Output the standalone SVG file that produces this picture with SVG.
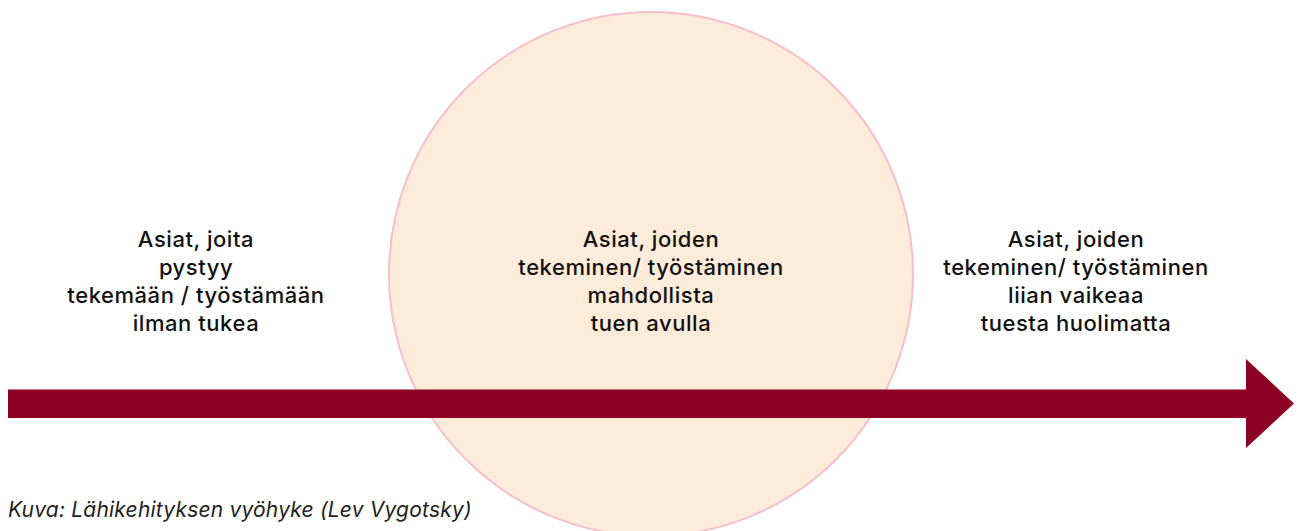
<svg xmlns="http://www.w3.org/2000/svg" width="1298" height="531" viewBox="0 0 1298 531">
  <style>
    .lbl { font-family: Inter, "Noto Sans", sans-serif; font-size: 22px; font-weight: 500; letter-spacing: 0.55px; fill: #111; text-anchor: middle; }
    .cap { font-family: Inter, "Noto Sans", sans-serif; font-size: 21px; font-style: italic; letter-spacing: 0.2px; fill: #222; }
  </style>
  <rect width="1298" height="531" fill="#fff"/>
  <!-- zone of proximal development -->
  <g id="zone">
    <circle cx="651" cy="274" r="262" fill="#FDECD9" stroke="#F7BFCB" stroke-width="2"/>
  </g>
  <!-- axis arrow -->
  <g id="connectors">
    <path d="M8 389.5 H1246 V359 L1294 403.5 L1246 448 V418 H8 Z" fill="#8C0023"/>
  </g>
  <g id="left">
    <text class="lbl" x="196" y="247">Asiat, joita</text>
    <text class="lbl" x="196" y="275">pystyy</text>
    <text class="lbl" x="196" y="303">tekemään / työstämään</text>
    <text class="lbl" x="196" y="331">ilman tukea</text>
  </g>
  <g id="middle">
    <text class="lbl" x="651" y="247">Asiat, joiden</text>
    <text class="lbl" x="651" y="275">tekeminen/ työstäminen</text>
    <text class="lbl" x="651" y="303">mahdollista</text>
    <text class="lbl" x="651" y="331">tuen avulla</text>
  </g>
  <g id="right">
    <text class="lbl" x="1076" y="247">Asiat, joiden</text>
    <text class="lbl" x="1076" y="275">tekeminen/ työstäminen</text>
    <text class="lbl" x="1076" y="303">liian vaikeaa</text>
    <text class="lbl" x="1076" y="331">tuesta huolimatta</text>
  </g>
  <g id="caption">
    <text class="cap" x="8" y="517">Kuva: Lähikehityksen vyöhyke (Lev Vygotsky)</text>
  </g>
</svg>
